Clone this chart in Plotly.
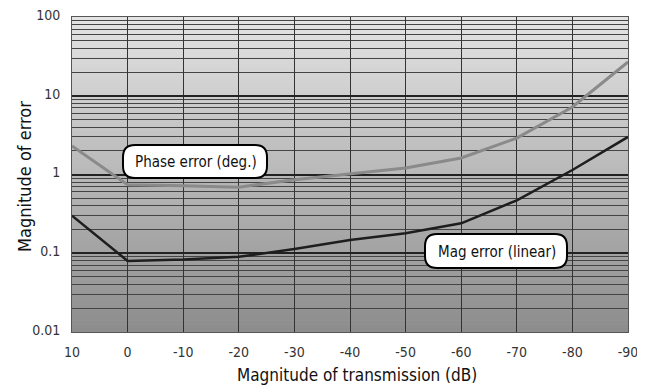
import plotly.graph_objects as go

# ---- data ----
transmission_db = [10, 0, -10, -20, -30, -40, -50, -60, -70, -80, -90]
phase_error_deg = [2.3, 0.74, 0.72, 0.69, 0.86, 1.02, 1.21, 1.62, 2.9, 7.2, 26.8]
mag_error_linear = [0.30, 0.080, 0.083, 0.090, 0.113, 0.147, 0.180, 0.24, 0.47, 1.14, 3.0]

x_ticks = [10, 0, -10, -20, -30, -40, -50, -60, -70, -80, -90]
x_tick_labels = ["10", "0", "-10", "-20", "-30", "-40", "-50", "-60", "-70", "-80", "-90"]
y_ticks = [0.01, 0.1, 1, 10, 100]
y_tick_labels = ["0.01", "0.1", "1", "10", "100"]

FONT = "DejaVu Sans Condensed, Liberation Sans, sans-serif"


def F(size, color="#222"):
    return dict(family=FONT, size=size, color=color)


W, H = 645, 389
OFF = 8  # page body margin
PX0, PX1, PY0, PY1 = 72, 628, 17, 332  # plot area on screen
ML, MT = PX0 - OFF, PY0 - OFF
MR, MB = W - (PX1 - OFF), H - (PY1 - OFF)
PW, PH = PX1 - PX0, PY1 - PY0

fig = go.Figure()
fig.add_trace(go.Scatter(x=transmission_db, y=phase_error_deg, mode="lines",
                         line=dict(color="#8a8a8a", width=3), name="Phase error (deg.)"))
fig.add_trace(go.Scatter(x=transmission_db, y=mag_error_linear, mode="lines",
                         line=dict(color="#1e1e1e", width=2.5), name="Mag error (linear)"))

shapes = []
# background gradient bands
N = 80
top_c, bot_c = 228, 140
for i in range(N):
    c = round(top_c + (bot_c - top_c) * (i + 0.5) / N)
    shapes.append(dict(type="rect", xref="paper", yref="paper",
                       x0=0, x1=1, y1=1 - i / N, y0=1 - (i + 1) / N - 0.002,
                       fillcolor=f"rgb({c},{c},{c})", line=dict(width=0), layer="below"))


def X(px):
    return (px - PX0) / PW


def Y(py):
    return (PY1 - py) / PH


def rounded_box(px0, py0, px1, py1, r):
    pts = (f"M {X(px0 + r)},{Y(py0)} L {X(px1 - r)},{Y(py0)} "
           f"Q {X(px1)},{Y(py0)} {X(px1)},{Y(py0 + r)} L {X(px1)},{Y(py1 - r)} "
           f"Q {X(px1)},{Y(py1)} {X(px1 - r)},{Y(py1)} L {X(px0 + r)},{Y(py1)} "
           f"Q {X(px0)},{Y(py1)} {X(px0)},{Y(py1 - r)} L {X(px0)},{Y(py0 + r)} "
           f"Q {X(px0)},{Y(py0)} {X(px0 + r)},{Y(py0)} Z")
    return dict(type="path", xref="paper", yref="paper", path=pts,
                fillcolor="white", line=dict(color="black", width=2), layer="above")


shapes.append(rounded_box(123, 145, 267, 178, 12))
shapes.append(rounded_box(425, 234, 567, 268, 12))

annotations = [
    dict(text="Phase error (deg.)", xref="paper", yref="paper",
         x=X(196), y=Y(162), xanchor="center", yanchor="middle", showarrow=False,
         font=F(15, "#111")),
    dict(text="Mag error (linear)", xref="paper", yref="paper",
         x=X(497), y=Y(252), xanchor="center", yanchor="middle", showarrow=False,
         font=F(15, "#111")),
    dict(text="Magnitude of transmission (dB)", xref="paper", yref="paper",
         x=X(357), y=Y(375), xanchor="center", yanchor="middle", showarrow=False,
         font=F(17, "#111")),
    dict(text="Magnitude of error", xref="paper", yref="paper", textangle=-90,
         x=X(24), y=Y(177), xanchor="center", yanchor="middle", showarrow=False,
         font=F(18, "#111")),
]

minor_vals = [m * 10 ** e for e in range(-2, 2) for m in range(2, 10)]

fig.update_layout(
    width=W, height=H,
    margin=dict(l=ML, r=MR, t=MT, b=MB, autoexpand=False),
    paper_bgcolor="white", plot_bgcolor="#c0c0c0",
    showlegend=False,
    shapes=shapes, annotations=annotations,
    font=F(14),
)
fig.update_xaxes(
    range=[10, -90], tickvals=x_ticks, ticktext=x_tick_labels, automargin=False,
    showgrid=True, gridcolor="#333333", gridwidth=1,
    zeroline=False, ticks="", ticklabelstandoff=7, ticklabeloverflow="allow",
    showline=True, linecolor="#555", mirror=True,
    tickfont=F(14, "#333"),
)
fig.update_yaxes(
    type="log", range=[-2, 2], tickvals=y_ticks, ticktext=y_tick_labels, automargin=False,
    showgrid=True, gridcolor="#222222", gridwidth=1.5,
    minor=dict(tickvals=minor_vals, showgrid=True, gridcolor="#444444", gridwidth=1),
    zeroline=False, ticks="", ticklabelstandoff=8, ticklabelshift=-2,
    ticklabeloverflow="allow",
    showline=True, linecolor="#555", mirror=True,
    tickfont=F(14, "#333"),
)

fig.write_html("out.html")
